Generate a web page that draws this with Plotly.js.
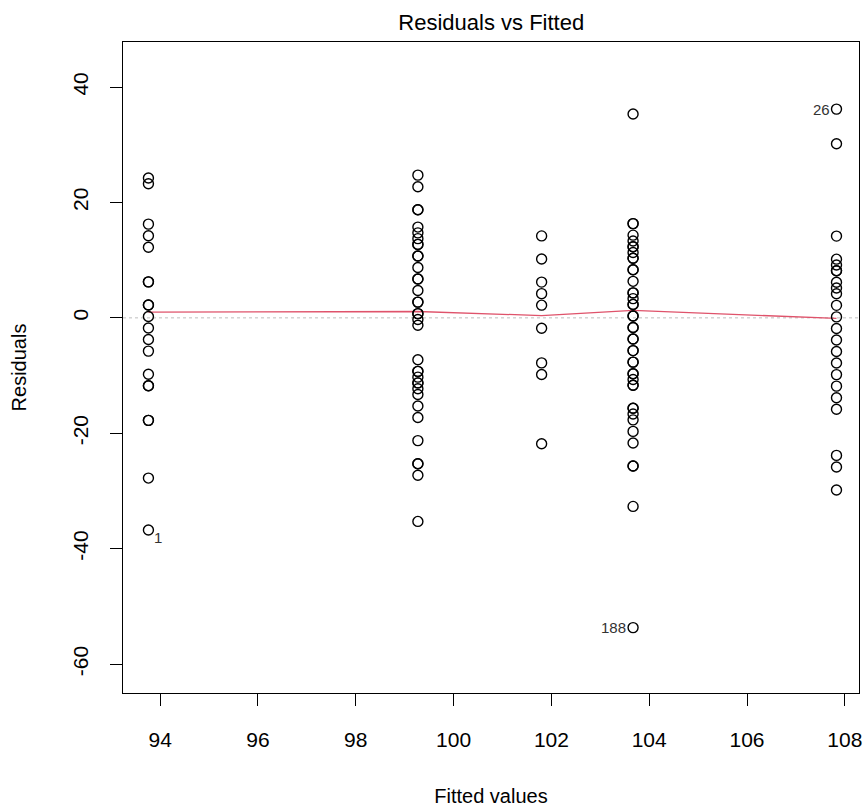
<!DOCTYPE html>
<html>
<head>
<meta charset="utf-8">
<script src="https://cdn.plot.ly/plotly-3.0.1.min.js"></script>
<style>
  html, body { margin: 0; padding: 0; background: #ffffff; }
  #chart { width: 867px; height: 812px; }
</style>
</head>
<body>
<div id="chart"></div>
<script>
// Fitted values (one per group) and the residuals observed at each of them
const fittedLevels = [93.76, 99.27, 101.80, 103.67, 107.83];

const residG1 = [24.24, 23.24, 16.24, 14.24, 12.24, 6.24, 6.24, 2.24, 2.24, 0.24,
                 -1.76, -3.76, -5.76, -9.76, -11.76, -11.76, -17.76, -17.76, -27.76, -36.76];

const residG2 = [24.73, 22.73, 18.73, 18.73, 15.73, 14.73, 13.73, 12.73, 12.73, 10.73,
                 10.73, 8.73, 6.73, 6.73, 4.73, 2.73, 2.73, 0.73, 0.73, -0.27, -1.27,
                 -7.27, -9.27, -9.27, -10.27, -11.27, -11.27, -12.27, -13.27, -15.27,
                 -17.27, -21.27, -25.27, -25.27, -27.27, -35.27];

const residG3 = [14.2, 10.2, 6.2, 4.2, 2.2, -1.8, -7.8, -9.8, -21.8];

const residG4 = [35.33, 16.33, 16.33, 14.33, 13.33, 12.33, 12.33, 11.33, 10.33, 10.33,
                 8.33, 8.33, 6.33, 4.33, 4.33, 3.33, 2.33, 2.33, 0.33, 0.33, -1.67,
                 -1.67, -3.67, -3.67, -5.67, -5.67, -7.67, -7.67, -9.67, -9.67, -10.67,
                 -11.67, -11.67, -15.67, -15.67, -16.67, -17.67, -19.67, -21.67,
                 -25.67, -25.67, -32.67, -53.67];

const residG5 = [36.17, 30.17, 14.17, 10.17, 9.17, 8.17, 8.17, 6.17, 5.17, 4.17, 2.17,
                 0.17, -1.83, -3.83, -5.83, -7.83, -9.83, -11.83, -13.83, -15.83,
                 -23.83, -25.83, -29.83];

// Smoothed trend of the residuals, evaluated at each fitted level
const smoothResid = [1.0, 1.1, 0.4, 1.3, -0.1];

// Observations flagged with their index
const flaggedLabels = ['1', '188', '26'];
const flaggedGroups = [0, 3, 4];
const flaggedValues = [-36.76, -53.67, 36.17];

const xTicks = [94, 96, 98, 100, 102, 104, 106, 108];
const yTicks = [-60, -40, -20, 0, 20, 40];

const groups = [residG1, residG2, residG3, residG4, residG5];
const xs = [], ys = [];
groups.forEach((g, i) => g.forEach(r => { xs.push(fittedLevels[i]); ys.push(r); }));

const FONT = '"Liberation Sans", Arial, Helvetica, sans-serif';

const points = {
  type: 'scatter', mode: 'markers', x: xs, y: ys,
  marker: { symbol: 'circle-open', size: 10, color: '#000000', line: { width: 1.4, color: '#000000' } },
  hoverinfo: 'x+y', showlegend: false
};

const smooth = {
  type: 'scatter', mode: 'lines', x: fittedLevels, y: smoothResid,
  line: { color: '#DF536B', width: 1.3 }, hoverinfo: 'skip', showlegend: false
};

const annotations = flaggedLabels.map((lab, i) => {
  const right = lab === '1';
  return {
    x: fittedLevels[flaggedGroups[i]], y: flaggedValues[i], xref: 'x', yref: 'y',
    text: lab, showarrow: false,
    xanchor: right ? 'left' : 'right', yanchor: right ? 'top' : 'middle',
    xshift: right ? 4 : -5, yshift: right ? 3 : 0,
    font: { family: FONT, size: 15, color: '#333333' }
  };
});

const layout = {
  width: 867, height: 812,
  margin: { l: 123, r: 8, t: 42, b: 119, pad: 0 },
  paper_bgcolor: '#ffffff', plot_bgcolor: '#ffffff',
  font: { family: FONT, color: '#000000' },
  title: {
    text: 'Residuals vs Fitted', x: 0.5666, xanchor: 'center', xref: 'container',
    y: 0.972, yanchor: 'middle', font: { family: FONT, size: 22, color: '#000000' }
  },
  xaxis: {
    range: [93.24, 108.29], tickmode: 'array', tickvals: xTicks, ticktext: xTicks.map(String),
    ticks: 'outside', ticklen: 12, tickwidth: 1, tickcolor: '#000000',
    showline: true, linecolor: '#000000', linewidth: 1, mirror: true,
    showgrid: false, zeroline: false, automargin: false,
    tickfont: { family: FONT, size: 21 }, ticklabelstandoff: 16,
    title: { text: 'Fitted values', font: { family: FONT, size: 20 }, standoff: 38 }
  },
  yaxis: {
    range: [-65.0, 47.8], tickmode: 'array', tickvals: yTicks, ticktext: yTicks.map(String),
    ticks: 'outside', ticklen: 12, tickwidth: 1, tickcolor: '#000000', tickangle: -90,
    showline: true, linecolor: '#000000', linewidth: 1, mirror: true,
    showgrid: false, zeroline: false, automargin: false,
    tickfont: { family: FONT, size: 21 }, ticklabelstandoff: 14,
    title: { text: 'Residuals', font: { family: FONT, size: 20 }, standoff: 36 }
  },
  shapes: [{
    type: 'line', xref: 'paper', x0: 0, x1: 1, yref: 'y', y0: 0, y1: 0,
    line: { color: '#BEBEBE', width: 1, dash: 'dot' }, layer: 'below'
  }],
  annotations: annotations
};

Plotly.newPlot('chart', [smooth, points], layout, { staticPlot: true, displayModeBar: false });
</script>
</body>
</html>
